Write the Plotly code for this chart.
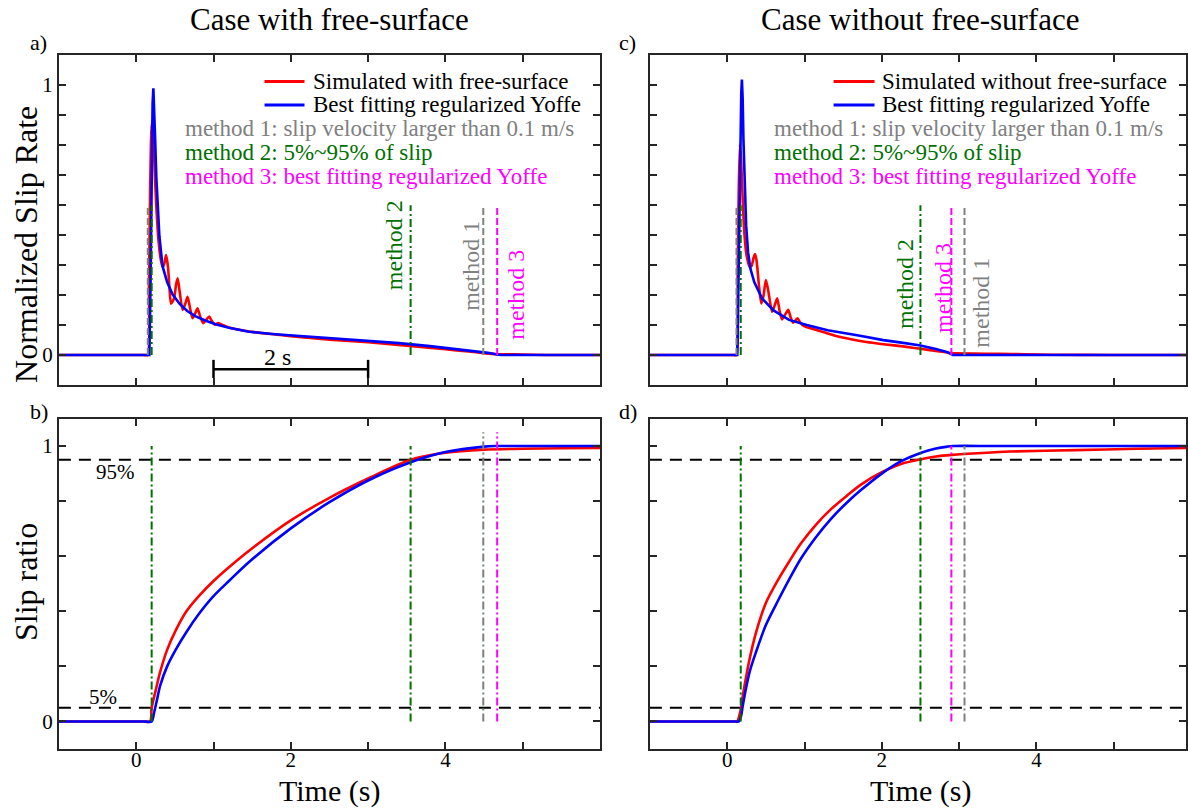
import plotly.graph_objects as go

W, H = 1188, 809
SERIF = "Liberation Serif, Times New Roman, serif"
RED, BLUE = "#ff0000", "#0000ff"
GRAY, GREEN, MAGENTA = "#808080", "#007000", "#ff00ff"
AXIS = "#262626"

# ---------------- slip rate, case with free surface ----------------
T_A_SIM = [-1.0, -0.5, 0.0, 0.1, 0.15, 0.165, 0.18, 0.195, 0.21, 0.225,
           0.24, 0.26, 0.29, 0.32, 0.345, 0.365, 0.386, 0.41, 0.43, 0.45,
           0.49, 0.515, 0.536, 0.56, 0.60, 0.635, 0.665, 0.70, 0.73, 0.765,
           0.794, 0.83, 0.867, 0.905, 0.945, 0.98, 1.02, 1.06, 1.10, 1.2,
           1.4, 1.6, 2.0, 2.5, 3.0, 3.5, 4.0, 4.3, 4.5, 4.67,
           5.0, 5.3, 5.6, 6.0]
R_A_SIM = [0, 0, 0, 0, 0, 0.25, 0.6, 0.82, 0.87, 0.8,
           0.68, 0.55, 0.42, 0.35, 0.325, 0.34, 0.37, 0.33, 0.25, 0.19,
           0.21, 0.26, 0.284, 0.24, 0.167, 0.19, 0.216, 0.168, 0.136, 0.155,
           0.173, 0.14, 0.118, 0.13, 0.142, 0.125, 0.112, 0.118, 0.113, 0.102,
           0.09, 0.082, 0.07, 0.057, 0.047, 0.034, 0.021, 0.013, 0.007, 0.003,
           0.002, 0.0, 0.0, 0.0]
T_A_FIT = [-1.0, 0.17, 0.185, 0.2, 0.212, 0.222, 0.232, 0.245, 0.26, 0.28,
           0.30, 0.34, 0.4, 0.47, 0.56, 0.66, 0.77, 0.9, 1.05, 1.2,
           1.46, 1.8, 2.2, 2.6, 3.0, 3.4, 3.8, 4.1, 4.35, 4.55,
           4.67, 4.72, 6.0]
R_A_FIT = [0, 0, 0.25, 0.7, 0.93, 0.988, 0.92, 0.8, 0.66, 0.52,
           0.44, 0.33, 0.27, 0.225, 0.19, 0.163, 0.143, 0.127, 0.112, 0.101,
           0.086, 0.077, 0.069, 0.061, 0.053, 0.044, 0.033, 0.024, 0.016, 0.008,
           0.002, 0.0, 0.0]

# ---------------- slip rate, case without free surface ----------------
T_C_SIM = [-1.0, -0.5, 0.0, 0.08, 0.12, 0.135, 0.15, 0.165, 0.18, 0.2,
           0.22, 0.25, 0.29, 0.315, 0.34, 0.36, 0.38, 0.41, 0.44, 0.47,
           0.50, 0.53, 0.58, 0.61, 0.647, 0.68, 0.71, 0.75, 0.79, 0.82,
           0.85, 0.88, 0.91, 0.95, 1.0, 1.1, 1.25, 1.41, 1.6, 1.8,
           2.02, 2.3, 2.5, 2.7, 2.9, 3.2, 3.5, 3.85, 4.2, 5.0,
           6.0]
R_C_SIM = [0, 0, 0, 0, 0, 0.3, 0.62, 0.78, 0.72, 0.58,
           0.46, 0.37, 0.327, 0.33, 0.36, 0.374, 0.35, 0.26, 0.191, 0.22,
           0.278, 0.24, 0.16, 0.18, 0.21, 0.16, 0.132, 0.15, 0.167, 0.14,
           0.12, 0.127, 0.136, 0.118, 0.106, 0.097, 0.084, 0.07, 0.058, 0.048,
           0.04, 0.031, 0.023, 0.015, 0.007, 0.005, 0.004, 0.003, 0.001, 0.0,
           0.0]
T_C_FIT = [-1.0, 0.13, 0.15, 0.17, 0.182, 0.19, 0.2, 0.21, 0.225, 0.245,
           0.27, 0.3, 0.35, 0.45, 0.6, 0.8, 1.03, 1.3, 1.7, 2.02,
           2.3, 2.5, 2.7, 2.85, 2.92, 6.0]
R_C_FIT = [0, 0, 0.35, 0.8, 0.97, 1.02, 0.95, 0.8, 0.62, 0.48,
           0.38, 0.32, 0.27, 0.21, 0.165, 0.13, 0.111, 0.092, 0.072, 0.055,
           0.044, 0.035, 0.022, 0.01, 0.0, 0.0]

# ---------------- slip ratio, case with free surface ----------------
T_B_SIM = [-1.0, -0.5, 0.0, 0.1, 0.18, 0.2, 0.25, 0.31, 0.4, 0.51,
           0.65, 0.81, 1.0, 1.2, 1.46, 2.0, 2.5, 3.0, 3.55, 4.0,
           4.5, 5.0, 5.5, 6.0]
S_B_SIM = [0, 0, 0, 0, 0, 0.05, 0.11, 0.18, 0.26, 0.33,
           0.40, 0.455, 0.51, 0.56, 0.62, 0.73, 0.812, 0.882, 0.95, 0.976,
           0.987, 0.99, 0.992, 0.993]
T_B_FIT = [-1.0, -0.5, 0.0, 0.1, 0.2, 0.23, 0.27, 0.31, 0.4, 0.51,
           0.65, 0.81, 1.0, 1.2, 1.46, 2.0, 2.5, 3.0, 3.5, 4.0,
           4.5, 4.67, 5.2, 6.0]
S_B_FIT = [0, 0, 0, 0, 0, 0.03, 0.08, 0.13, 0.2, 0.26,
           0.325, 0.39, 0.455, 0.51, 0.579, 0.701, 0.796, 0.875, 0.936, 0.978,
           0.998, 1.0, 1.0, 1.0]

# ---------------- slip ratio, case without free surface ----------------
T_D_SIM = [-1.0, -0.5, 0.0, 0.1, 0.13, 0.16, 0.18, 0.2, 0.25, 0.3,
           0.37, 0.5, 0.66, 0.8, 0.95, 1.15, 1.34, 1.55, 1.73, 2.0,
           2.25, 2.51, 2.7, 2.91, 3.3, 3.66, 4.5, 5.3, 6.0]
S_D_SIM = [0, 0, 0, 0, 0, 0.025, 0.05, 0.09, 0.17, 0.24,
           0.32, 0.43, 0.515, 0.58, 0.645, 0.715, 0.77, 0.82, 0.86, 0.905,
           0.935, 0.952, 0.962, 0.968, 0.975, 0.98, 0.985, 0.99, 0.993]
T_D_FIT = [-1.0, -0.5, 0.0, 0.1, 0.15, 0.18, 0.2, 0.25, 0.3, 0.37,
           0.5, 0.66, 0.8, 0.95, 1.15, 1.34, 1.55, 1.73, 2.0, 2.25,
           2.51, 2.7, 2.85, 2.92, 3.5, 6.0]
S_D_FIT = [0, 0, 0, 0, 0, 0.02, 0.055, 0.13, 0.19, 0.25,
           0.35, 0.44, 0.515, 0.59, 0.67, 0.735, 0.795, 0.84, 0.9, 0.945,
           0.976, 0.991, 0.998, 1.0, 1.0, 1.0]

# rise-time picks (s): method 1 = slip velocity > 0.1 m/s,
# method 2 = 5%-95% of slip, method 3 = best fitting regularized Yoffe
A_METHOD1 = [0.15, 4.49]
A_METHOD2 = [0.20, 3.55]
A_METHOD3 = [4.67]
C_METHOD1 = [0.12, 3.07]
C_METHOD2 = [0.175, 2.50]
C_METHOD3 = [2.90]

SLIP_LEVELS = [0.05, 0.95]
SCALE_BAR = [1.0, 3.0]

X_TICKS = [0, 1, 2, 3, 4, 5]
X_TICKTEXT = ["0", "", "2", "", "4", ""]
RATE_TICKS = [k / 9 for k in range(10)]
RATE_TICKTEXT = ["0"] + [""] * 8 + ["1"]
RATIO_TICKS = [0, 0.2, 0.4, 0.6, 0.8, 1.0]
RATIO_TICKTEXT = ["0", "", "", "", "", "1"]


def px(x):
    return x / W


def py(y):
    return 1 - y / H


fig = go.Figure()

AX = {"a": ("x", "y"), "c": ("x2", "y2"), "b": ("x3", "y3"), "d": ("x4", "y4")}


def curve(panel, t, v, color, smoothing=None):
    xa, ya = AX[panel]
    line = dict(color=color, width=2.6)
    if smoothing:
        line.update(shape="spline", smoothing=smoothing)
    fig.add_trace(go.Scatter(x=t, y=v, mode="lines", line=line, xaxis=xa, yaxis=ya,
                             showlegend=False, hoverinfo="skip"))


def vline(panel, t, top, color, dash):
    xa, ya = AX[panel]
    fig.add_trace(go.Scatter(x=[t, t], y=[0, top], mode="lines",
                             line=dict(color=color, width=2, dash=dash),
                             xaxis=xa, yaxis=ya, showlegend=False, hoverinfo="skip"))


def hline(panel, level):
    xa, ya = AX[panel]
    fig.add_trace(go.Scatter(x=[-1, 6], y=[level, level], mode="lines",
                             line=dict(color="black", width=2, dash="12px,8px"),
                             xaxis=xa, yaxis=ya, showlegend=False, hoverinfo="skip"))


DASH = "7px,3px"
DASHDOT = "8px,3px,2px,3px"

# slip-rate panels
curve("a", T_A_SIM, R_A_SIM, RED, smoothing=0.6)
curve("a", T_A_FIT, R_A_FIT, BLUE)
curve("c", T_C_SIM, R_C_SIM, RED, smoothing=0.6)
curve("c", T_C_FIT, R_C_FIT, BLUE)
RATE_MARK_TOP = 0.555
for t in A_METHOD1:
    vline("a", t, RATE_MARK_TOP, GRAY, DASH)
for t in A_METHOD2:
    vline("a", t, RATE_MARK_TOP, GREEN, DASHDOT)
for t in A_METHOD3:
    vline("a", t, RATE_MARK_TOP, MAGENTA, DASH)
for t in C_METHOD1:
    vline("c", t, RATE_MARK_TOP, GRAY, DASH)
for t in C_METHOD2:
    vline("c", t, RATE_MARK_TOP, GREEN, DASHDOT)
for t in C_METHOD3:
    vline("c", t, RATE_MARK_TOP, MAGENTA, DASH)

# 2 s scale bar in panel a
bar_y, cap_lo, cap_hi = -0.053, -0.085, -0.018
fig.add_trace(go.Scatter(x=SCALE_BAR, y=[bar_y, bar_y], mode="lines",
                         line=dict(color="black", width=2.5), xaxis="x", yaxis="y",
                         showlegend=False, hoverinfo="skip"))
for t in SCALE_BAR:
    fig.add_trace(go.Scatter(x=[t, t], y=[cap_lo, cap_hi], mode="lines",
                             line=dict(color="black", width=2.5), xaxis="x", yaxis="y",
                             showlegend=False, hoverinfo="skip"))

# slip-ratio panels
for p in ("b", "d"):
    for lv in SLIP_LEVELS:
        hline(p, lv)
curve("b", T_B_SIM, S_B_SIM, RED, smoothing=0.8)
curve("b", T_B_FIT, S_B_FIT, BLUE, smoothing=0.8)
curve("d", T_D_SIM, S_D_SIM, RED, smoothing=0.8)
curve("d", T_D_FIT, S_D_FIT, BLUE, smoothing=0.8)
for t in A_METHOD2:
    vline("b", t, 1.0, GREEN, DASHDOT)
vline("b", A_METHOD1[-1], 1.05, GRAY, DASHDOT)
vline("b", A_METHOD3[-1], 1.05, MAGENTA, DASHDOT)
for t in C_METHOD2:
    vline("d", t, 1.0, GREEN, DASHDOT)
vline("d", C_METHOD3[-1], 1.0, MAGENTA, DASHDOT)
vline("d", C_METHOD1[-1], 1.0, GRAY, DASHDOT)

# ---------------- axes ----------------
XA = [59 / W, 601 / W]
XC = [651 / W, 1.0]
UNIT = (601 - 59) / 7.0
XR_LEFT = [-1, 6]
XR_RIGHT = [-1, -1 + (W - 651) / UNIT]
YTOP = [py(385), py(55)]
YBOT = [py(749), py(418.5)]

common = dict(showline=True, linecolor=AXIS, linewidth=2, mirror="allticks",
              ticks="inside", ticklen=7, tickwidth=1.5, tickcolor=AXIS,
              showgrid=False, zeroline=False,
              tickfont=dict(family=SERIF, size=21, color="black"))

fig.update_layout(
    width=W, height=H, margin=dict(l=0, r=0, t=0, b=0),
    paper_bgcolor="white", plot_bgcolor="white", showlegend=False,
    xaxis=dict(common, domain=XA, range=XR_LEFT, anchor="y", tickvals=X_TICKS,
               showticklabels=False),
    xaxis2=dict(common, domain=XC, range=XR_RIGHT, anchor="y2", tickvals=X_TICKS,
                showticklabels=False),
    xaxis3=dict(common, domain=XA, range=XR_LEFT, anchor="y3", tickvals=X_TICKS,
                ticktext=X_TICKTEXT, ticklabelstandoff=-9),
    xaxis4=dict(common, domain=XC, range=XR_RIGHT, anchor="y4", tickvals=X_TICKS,
                ticktext=X_TICKTEXT, ticklabelstandoff=-9),
    yaxis=dict(common, domain=YTOP, range=[-1 / 9, 10 / 9], anchor="x",
               tickvals=RATE_TICKS, ticktext=RATE_TICKTEXT),
    yaxis2=dict(common, domain=YTOP, range=[-1 / 9, 10 / 9], anchor="x2",
                tickvals=RATE_TICKS, showticklabels=False),
    yaxis3=dict(common, domain=YBOT, range=[-0.1, 1.1], anchor="x3",
                tickvals=RATIO_TICKS, ticktext=RATIO_TICKTEXT),
    yaxis4=dict(common, domain=YBOT, range=[-0.1, 1.1], anchor="x4",
                tickvals=RATIO_TICKS, showticklabels=False),
)

ann = []


def text(s, x, y, size, color="black", xanchor="center", angle=0, xref="paper", yref="paper"):
    ann.append(dict(text=s, x=x, y=y, xref=xref, yref=yref, showarrow=False,
                    xanchor=xanchor, yanchor="middle", textangle=angle,
                    font=dict(family=SERIF, size=size, color=color)))


# titles and panel letters
text("Case with free-surface", px(330), py(19), 31)
text("Case without free-surface", px(922), py(19), 31)
text("a)", px(39), py(42), 22)
text("b)", px(39), py(411), 22)
text("c)", px(629), py(42), 22)
text("d)", px(629), py(411), 22)

# axis titles
text("Normalized Slip Rate", px(26), py(244), 32, angle=-90)
text("Slip ratio", px(26), py(582), 32, angle=-90)
text("Time (s)", px(330), py(791), 30)
text("Time (s)", px(922), py(791), 30)

# key + method descriptions
KEY_ROWS = [81.5, 105, 129, 152.5, 176]
shapes = []
for (x0, x1, x_txt, x_m, label) in [
        (265, 305, 312, 183, "Simulated with free-surface"),
        (835, 876, 881, 773.6, "Simulated without free-surface")]:
    shapes.append(dict(type="line", xref="paper", yref="paper", x0=px(x0), x1=px(x1),
                       y0=py(KEY_ROWS[0]), y1=py(KEY_ROWS[0]), line=dict(color=RED, width=3)))
    shapes.append(dict(type="line", xref="paper", yref="paper", x0=px(x0), x1=px(x1),
                       y0=py(KEY_ROWS[1]), y1=py(KEY_ROWS[1]), line=dict(color=BLUE, width=3)))
    text(label, px(x_txt), py(KEY_ROWS[0]), 23, xanchor="left")
    text("Best fitting regularized Yoffe", px(x_txt), py(KEY_ROWS[1]), 23, xanchor="left")
    text("method 1: slip velocity larger than 0.1 m/s", px(x_m), py(KEY_ROWS[2]), 23, GRAY, "left")
    text("method 2: 5%~95% of slip", px(x_m), py(KEY_ROWS[3]), 23, GREEN, "left")
    text("method 3: best fitting regularized Yoffe", px(x_m), py(KEY_ROWS[4]), 23, MAGENTA, "left")

# rotated labels beside the pick lines
text("method 2", 3.336, 0.407, 24, GREEN, angle=-90, xref="x", yref="y")
text("method 1", 4.33, 0.33, 24, GRAY, angle=-90, xref="x", yref="y")
text("method 3", 4.91, 0.222, 24, MAGENTA, angle=-90, xref="x", yref="y")
text("method 2", 2.30, 0.263, 24, GREEN, angle=-90, xref="x2", yref="y2")
text("method 3", 2.79, 0.248, 24, MAGENTA, angle=-90, xref="x2", yref="y2")
text("method 1", 3.28, 0.193, 24, GRAY, angle=-90, xref="x2", yref="y2")

# scale bar label and slip level labels
text("2 s", 1.83, -0.006, 24, xref="x", yref="y")
text("95%", -0.27, 0.904, 21, xref="x3", yref="y3")
text("5%", -0.43, 0.088, 21, xref="x3", yref="y3")

fig.update_layout(annotations=ann, shapes=shapes)

fig.write_html("out.html")
